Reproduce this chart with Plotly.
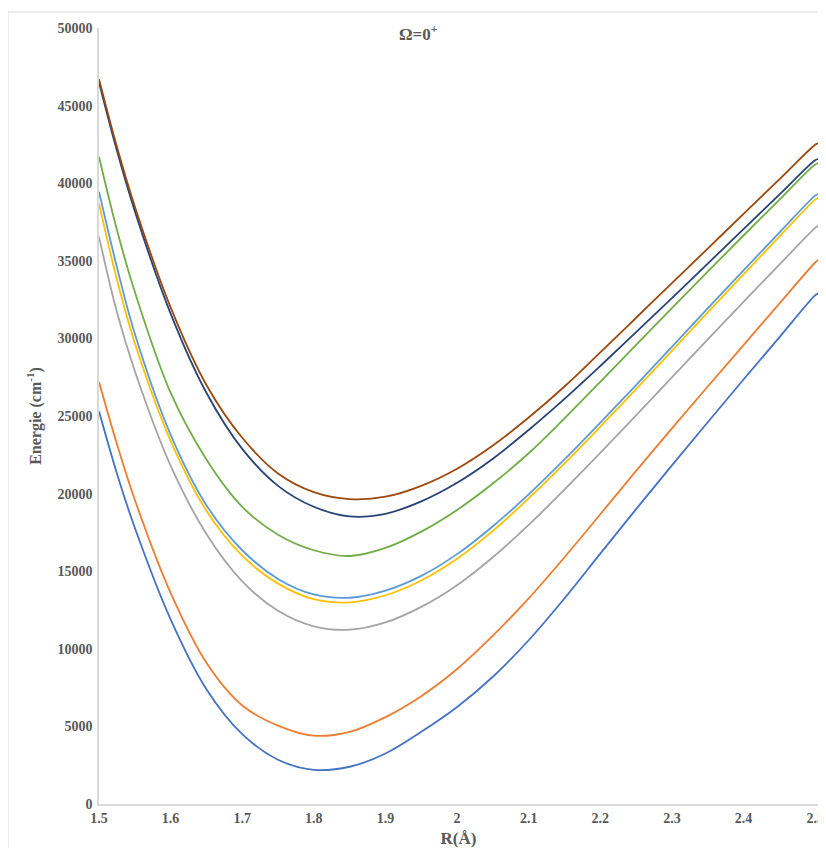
import plotly.graph_objects as go

# Internuclear distance R (Å)
R = [1.50, 1.525, 1.55, 1.60, 1.65, 1.70, 1.75, 1.80, 1.85, 1.90, 1.95, 2.00,
     2.05, 2.10, 2.15, 2.20, 2.25, 2.30, 2.35, 2.40, 2.45, 2.50, 2.504]

# Potential energy curves (cm-1), Omega = 0+
state1 = [25300, 21300, 17800, 11900, 7400, 4500, 2850, 2200, 2400, 3250, 4650, 6250,
          8200, 10550, 13250, 16130, 19000, 21820, 24600, 27350, 30070, 32770, 32880]
state2 = [27200, 23200, 19600, 13600, 9100, 6350, 5050, 4400, 4650, 5600, 6950, 8700,
          10850, 13250, 15900, 18670, 21460, 24200, 26900, 29570, 32240, 34890, 35050]
state3 = [36550, 31700, 27900, 21800, 17400, 14350, 12450, 11450, 11230, 11700, 12700, 14100,
          15900, 17980, 20260, 22620, 25040, 27490, 29940, 32360, 34750, 37120, 37250]
state4 = [38700, 33800, 29700, 23400, 18900, 16000, 14200, 13200, 12990, 13450, 14400, 15800,
          17600, 19700, 21950, 24310, 26730, 29200, 31680, 34130, 36550, 38940, 39040]
state5 = [39450, 34600, 30300, 23800, 19250, 16350, 14500, 13500, 13290, 13750, 14700, 16100,
          17900, 19950, 22200, 24570, 26990, 29460, 31940, 34390, 36810, 39200, 39300]
state6 = [41700, 37000, 33000, 26500, 22200, 19150, 17350, 16350, 15980, 16500, 17550, 18950,
          20650, 22600, 24850, 27200, 29580, 31950, 34300, 36630, 38930, 41210, 41280]
state7 = [46500, 42100, 38200, 31600, 26500, 22880, 20500, 19150, 18530, 18700, 19500, 20700,
          22250, 24100, 26100, 28220, 30400, 32600, 34820, 37040, 39260, 41480, 41550]
state8 = [46700, 42350, 38500, 32000, 27000, 23600, 21300, 20100, 19650, 19800, 20500, 21600,
          23100, 24900, 26900, 29100, 31330, 33560, 35790, 38020, 40250, 42480, 42570]

series = [state1, state2, state3, state4, state5, state6, state7, state8]
names = ["(1)0+", "(2)0+", "(3)0+", "(4)0+", "(5)0+", "(6)0+", "(7)0+", "(8)0+"]
colors = ["#4472C4", "#ED7D31", "#A5A5A5", "#FFC000",
          "#5B9BD5", "#70AD47", "#264478", "#9E480E"]

x_ticks = [1.5, 1.6, 1.7, 1.8, 1.9, 2.0, 2.1, 2.2, 2.3, 2.4, 2.5]
x_ticklabels = ["1.5", "1.6", "1.7", "1.8", "1.9", "2", "2.1", "2.2", "2.3", "2.4", "2.5"]
y_ticks = list(range(0, 50001, 5000))
y_ticklabels = [str(v) for v in y_ticks]

FONT = "Liberation Serif"
GREY = "#595959"

fig = go.Figure()
for ys, nm, col in zip(series, names, colors):
    fig.add_trace(go.Scatter(
        x=R, y=ys, name=nm, mode="lines",
        line=dict(color=col, width=1.8, shape="spline", smoothing=1.0),
        showlegend=False,
    ))

fig.update_layout(
    width=818, height=840,
    margin=dict(l=91, r=8, t=20, b=44, autoexpand=False),
    paper_bgcolor="white", plot_bgcolor="white",
    font=dict(family=FONT, color=GREY),
    xaxis=dict(
        range=[1.5, 2.504], tickmode="array", tickvals=x_ticks, ticktext=x_ticklabels,
        showgrid=False, zeroline=False, showline=True, linecolor="#D9D9D9", linewidth=1.5,
        ticks="", ticklabeloverflow="allow",
        tickfont=dict(family=FONT, size=14, color=GREY, weight="bold"),
        title=dict(text="R(Å)", font=dict(family=FONT, size=17, color=GREY, weight="bold"),
                   standoff=13),
    ),
    yaxis=dict(
        range=[0, 50000], tickmode="array", tickvals=y_ticks, ticktext=y_ticklabels,
        showgrid=False, zeroline=False, showline=True, linecolor="#D9D9D9", linewidth=1.5,
        ticks="", ticklabelstandoff=2,
        tickfont=dict(family=FONT, size=14, color=GREY, weight="bold"),
        title=dict(text="Energie (cm<sup>-1</sup>)",
                   font=dict(family=FONT, size=16, color=GREY, weight="bold"), standoff=12),
    ),
    annotations=[dict(
        text="Ω=0<sup>+</sup>", xref="paper", yref="paper", x=0.444, y=1.01,
        xanchor="center", yanchor="top", showarrow=False,
        font=dict(family=FONT, size=17, color=GREY, weight="bold"),
    )],
    shapes=[dict(
        type="rect", xref="paper", yref="paper", x0=-0.1266, x1=1.2, y0=-0.2, y1=1.0206,
        line=dict(color="#D9D9D9", width=1), fillcolor="rgba(0,0,0,0)", layer="below",
    )],
)

fig.write_html("out.html")
